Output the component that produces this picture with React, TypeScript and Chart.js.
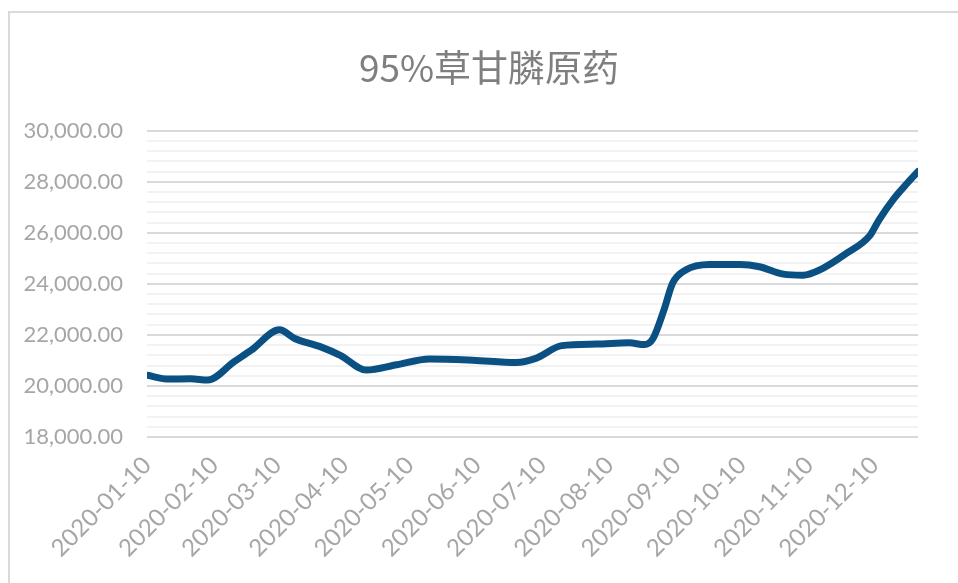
import React, { useEffect, useRef } from "react";
import { Chart, registerables } from "chart.js";

Chart.register(...registerables);

const title = "95%草甘膦原药";

const tickLabels = [
  "2020-01-10", "2020-02-10", "2020-03-10", "2020-04-10", "2020-05-10", "2020-06-10",
  "2020-07-10", "2020-08-10", "2020-09-10", "2020-10-10", "2020-11-10", "2020-12-10",
];

const dates = [
  "2020-01-10", "2020-01-20", "2020-01-30", "2020-02-07", "2020-02-19", "2020-02-27",
  "2020-03-11", "2020-03-18", "2020-03-30", "2020-04-08", "2020-04-20", "2020-05-04",
  "2020-05-19", "2020-06-08", "2020-06-28", "2020-07-07", "2020-07-19", "2020-08-04",
  "2020-08-19", "2020-08-26", "2020-08-30", "2020-09-04", "2020-09-08", "2020-09-14",
  "2020-09-25", "2020-10-09", "2020-10-18", "2020-10-29", "2020-11-07", "2020-11-16",
  "2020-11-27", "2020-12-08", "2020-12-12", "2020-12-19", "2020-12-25", "2020-12-30",
];

const prices = [
  20420, 20270, 20280, 20230, 20940, 21400,
  22200, 21860, 21530, 21200, 20620, 20830,
  21060, 21010, 20920, 21080, 21580, 21640,
  21690, 21620, 21860, 22970, 24020, 24540,
  24760, 24760, 24670, 24380, 24340, 24600,
  25190, 25910, 26500, 27350, 27940, 28400,
];

const yMin = 18000;
const yMax = 30000;
const yMajorStep = 2000;
const yMinorStep = 400;

const origin = Date.UTC(2020, 0, 10);
function dayOf(s: string): number {
  const [y, m, d] = s.split("-").map(Number);
  return Math.round((Date.UTC(y, m - 1, d) - origin) / 86400000);
}

const shiftTitle = {
  id: "shiftTitle",
  afterLayout(chart: any) {
    const t = chart.titleBlock;
    if (t) {
      t.left += 30;
      t.right += 30;
    }
  },
};

export default function App() {
  const ref = useRef<HTMLCanvasElement | null>(null);

  useEffect(() => {
    if (!ref.current) return;
    const labelFont = { family: "Lato, 'Noto Sans', sans-serif", size: 22 };
    const chart = new Chart(ref.current, {
      type: "line",
      plugins: [shiftTitle],
      data: {
        datasets: [
          {
            data: dates.map((d, i) => ({ x: dayOf(d), y: prices[i] })),
            borderColor: "#0b5082",
            borderWidth: 7,
            pointRadius: 0,
            cubicInterpolationMode: "monotone",
            fill: false,
            borderCapStyle: "round",
            borderJoinStyle: "round",
          },
        ],
      },
      options: {
        animation: false,
        responsive: false,
        layout: { padding: { left: 0, right: 40, top: 0, bottom: 0 } },
        plugins: {
          legend: { display: false },
          tooltip: { enabled: false },
          title: {
            display: true,
            text: title,
            color: "#7f7f7f",
            font: { family: "'Noto Sans CJK SC', sans-serif", size: 37, weight: "normal", lineHeight: 1.2 },
            padding: { top: 46, bottom: 40.3 },
          },
        },
        scales: {
          x: {
            type: "linear",
            min: 0,
            max: dayOf(dates[dates.length - 1]),
            afterBuildTicks: (scale: any) => {
              scale.ticks = tickLabels.map((l) => ({ value: dayOf(l) }));
            },
            afterFit: (scale: any) => {
              scale.height = 146;
            },
            ticks: {
              autoSkip: false,
              maxRotation: 45,
              minRotation: 45,
              color: "#a6a6a6",
              font: { ...labelFont, size: 24 },
              padding: 14,
              callback: (_v: any, i: number) => tickLabels[i],
            },
            grid: { display: false, drawTicks: false },
            border: { display: false },
          },
          y: {
            min: yMin,
            max: yMax,
            afterFit: (scale: any) => {
              scale.width = 147;
            },
            ticks: {
              stepSize: yMinorStep,
              autoSkip: false,
              color: "#a6a6a6",
              font: labelFont,
              padding: 24,
              callback: (v: any) =>
                Math.round(v) % yMajorStep === 0
                  ? Number(v).toLocaleString("en-US", { minimumFractionDigits: 2, maximumFractionDigits: 2 })
                  : "",
            },
            grid: {
              drawTicks: false,
              lineWidth: 2,
              color: (ctx: any) =>
                ctx.tick && Math.round(ctx.tick.value) % yMajorStep === 0 ? "#d9d9d9" : "#f2f2f2",
            },
            border: { display: false },
          },
        },
      },
    });
    return () => chart.destroy();
  }, []);

  return (
    <div
      style={{
        position: "fixed",
        left: 0,
        top: 0,
        width: 958,
        height: 583,
        overflow: "hidden",
        background: "#ffffff",
      }}
    >
      <div
        style={{
          position: "absolute",
          left: 8,
          top: 11,
          width: 1200,
          height: 1200,
          borderLeft: "2px solid #d9d9d9",
          borderTop: "2px solid #d9d9d9",
        }}
      />
      <canvas ref={ref} width={958} height={583} style={{ position: "absolute", left: 0, top: 0 }} />
    </div>
  );
}
